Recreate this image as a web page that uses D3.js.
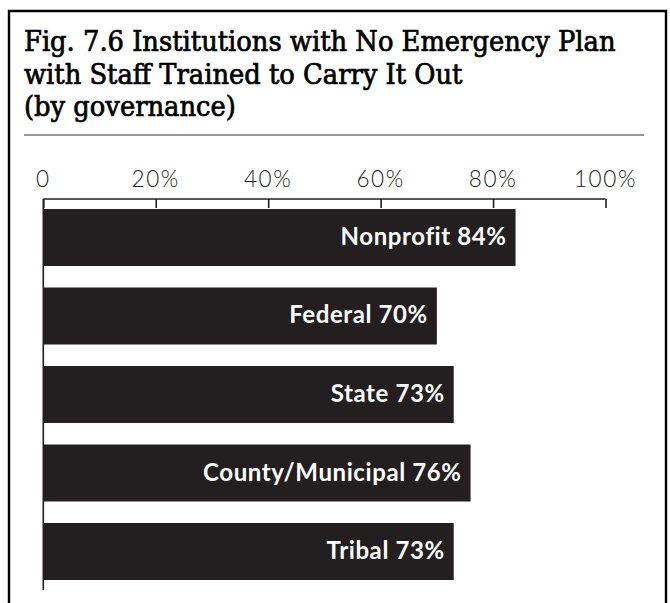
<!DOCTYPE html>
<html>
<head>
<meta charset="utf-8">
<script src="https://cdn.jsdelivr.net/npm/d3@7"></script>
<style>
  html, body { margin: 0; padding: 0; background: #fff; }
  svg { display: block; }
</style>
</head>
<body>
<svg id="chart" width="670" height="603"></svg>
<script>
// Chart data
const titleLines = [
  "Fig. 7.6 Institutions with No Emergency Plan",
  "with Staff Trained to Carry It Out",
  "(by governance)"
];
const categories = ["Nonprofit", "Federal", "State", "County/Municipal", "Tribal"];
const values = [84, 70, 73, 76, 73];
const tickValues = [0, 20, 40, 60, 80, 100];
const tickLabels = ["0", "20%", "40%", "60%", "80%", "100%"];

const ink = "#231f20";
const svg = d3.select("#chart");

// Size a font so that a sample string spans a given width
function fitSize(family, weight, sample, targetWidth) {
  const t = svg.append("text")
    .attr("font-family", family)
    .attr("font-weight", weight)
    .attr("font-size", 100)
    .text(sample);
  const w = t.node().getComputedTextLength();
  t.remove();
  return 100 * targetWidth / w;
}

// Frame (open at the bottom edge of the page)
svg.append("path")
  .attr("d", "M9,620 L9,11 L666,11 L666,620")
  .attr("fill", "none")
  .attr("stroke", "#000")
  .attr("stroke-width", 2.4);

// Title: regular condensed serif, slightly thickened for a semibold look
const titleFont = "'DejaVu Serif Condensed', 'DejaVu Serif', serif";
const titleSize = fitSize(titleFont, "normal", titleLines[0], 592);
const title = svg.append("text")
  .attr("font-family", titleFont)
  .attr("font-weight", "normal")
  .attr("font-size", titleSize)
  .attr("fill", "#000")
  .attr("stroke", "#000")
  .attr("stroke-width", 0.7);
title.selectAll("tspan")
  .data(titleLines)
  .join("tspan")
  .attr("x", 24)
  .attr("y", (d, i) => 51 + i * 32.5)
  .text(d => d);

// Rule under the title
svg.append("line")
  .attr("x1", 24).attr("x2", 644)
  .attr("y1", 135).attr("y2", 135)
  .attr("stroke", "#333")
  .attr("stroke-width", 1.2);

// Scales
const x = d3.scaleLinear().domain([0, 100]).range([43.3, 605.5]);
const y = d3.scaleBand().domain(categories).range([209, 580]).paddingInner(0.274);

// Top axis: line with downward ticks, labels above
const axisY = 199;
const axis = d3.axisBottom(x)
  .tickValues(tickValues)
  .tickSize(9)
  .tickFormat("");
const ag = svg.append("g")
  .attr("transform", `translate(0,${axisY})`)
  .call(axis);
ag.select(".domain").remove();
ag.selectAll(".tick line").attr("stroke", ink).attr("stroke-width", 1.6);
ag.append("line")
  .attr("x1", x(0)).attr("x2", x(100))
  .attr("y1", 0).attr("y2", 0)
  .attr("stroke", ink).attr("stroke-width", 1.6);

svg.append("g")
  .selectAll("text")
  .data(tickValues)
  .join("text")
  .attr("x", d => x(d))
  .attr("y", 187)
  .attr("text-anchor", "middle")
  .attr("font-family", "Lato, 'Open Sans', sans-serif")
  .attr("font-weight", 300)
  .attr("font-size", 22.5)
  .attr("letter-spacing", 1.6)
  .attr("fill", ink)
  .text((d, i) => tickLabels[i]);

// Bars
svg.append("g")
  .selectAll("rect")
  .data(categories)
  .join("rect")
  .attr("x", x(0))
  .attr("y", d => y(d))
  .attr("width", (d, i) => x(values[i]) - x(0))
  .attr("height", y.bandwidth())
  .attr("fill", ink);

// Left axis line
svg.append("line")
  .attr("x1", x(0)).attr("x2", x(0))
  .attr("y1", axisY).attr("y2", 590)
  .attr("stroke", ink).attr("stroke-width", 1.6);

// Value labels inside bar ends
const labelFont = "Lato, 'Open Sans', sans-serif";
svg.append("g")
  .selectAll("text")
  .data(categories)
  .join("text")
  .attr("x", (d, i) => x(values[i]) - 9)
  .attr("y", d => y(d) + y.bandwidth() / 2 + 7.5)
  .attr("text-anchor", "end")
  .attr("font-family", labelFont)
  .attr("font-weight", "bold")
  .attr("font-size", 24)
  .attr("letter-spacing", 0.6)
  .attr("fill", "#fff")
  .text((d, i) => `${d} ${values[i]}%`);
</script>
</body>
</html>
